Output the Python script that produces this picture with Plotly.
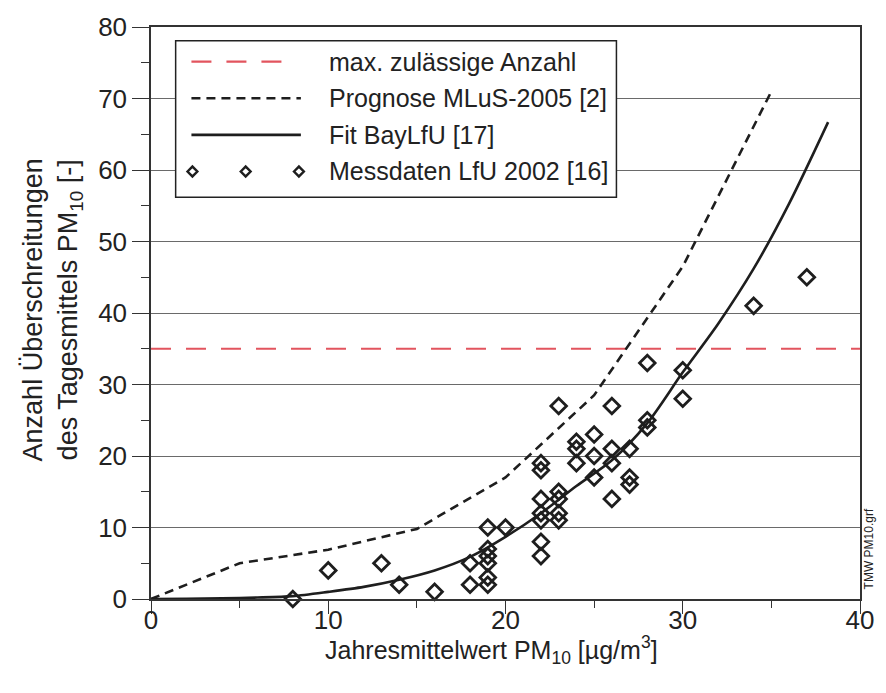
import plotly.graph_objects as go

# ---- data ----
limit_x = [0, 40]
limit_y = [35, 35]

prog_x = [0, 5, 10, 15, 20, 25, 30, 35]
prog_y = [0, 5, 6.9, 9.8, 17, 28.5, 46.5, 71]

fit_x = [0, 2, 4, 6, 8, 10, 12, 14, 16, 18, 20, 22, 24, 26, 28, 30, 32, 34, 36, 38.2]
fit_y = [0, 0.02, 0.1, 0.2, 0.4, 1.0, 1.7, 2.7, 4.0, 5.9, 8.7, 12, 15.8, 19.4, 24.6, 31.7, 38.5, 46.2, 55.3, 66.7]

mess_x = [8, 10, 13, 14, 16, 18, 18, 19, 19, 19, 19, 19, 19, 20,
          22, 22, 22, 22, 22, 22, 22, 23, 23, 23, 23, 23, 24, 24, 24,
          25, 25, 25, 26, 26, 26, 26, 27, 27, 27, 28, 28, 28, 30, 30, 34, 37]
mess_y = [0, 4, 5, 2, 1, 5, 2, 10, 7, 6, 5, 3, 2, 10,
          19, 18, 14, 12, 11, 8, 6, 27, 15, 14, 12, 11, 22, 21, 19,
          23, 20, 17, 27, 21, 19, 14, 21, 17, 16, 33, 25, 24, 32, 28, 41, 45]

legend_labels = ["max. zulässige Anzahl", "Prognose MLuS-2005 [2]",
                 "Fit BayLfU [17]", "Messdaten LfU 2002 [16]"]

RED = "#e2545e"
BLK = "#1e1e1e"
FONT = "Liberation Sans, Arial, sans-serif"

fig = go.Figure()
fig.add_trace(go.Scatter(x=limit_x, y=limit_y, mode="lines",
                         line=dict(color=RED, width=2.2, dash="20px,15px"),
                         name=legend_labels[0], showlegend=False))
fig.add_trace(go.Scatter(x=prog_x, y=prog_y, mode="lines",
                         line=dict(color=BLK, width=2.6, dash="9px,6px"),
                         name=legend_labels[1], showlegend=False))
fig.add_trace(go.Scatter(x=fit_x, y=fit_y, mode="lines",
                         line=dict(color=BLK, width=2.6, shape="spline", smoothing=0.8),
                         name=legend_labels[2], showlegend=False))
fig.add_trace(go.Scatter(x=mess_x, y=mess_y, mode="markers",
                         marker=dict(symbol="diamond-open", size=12, color=BLK,
                                     line=dict(width=2.8, color=BLK)),
                         name=legend_labels[3], showlegend=False, cliponaxis=False))

# ---- custom legend (paper coords) ----
W, H = 886, 693
L, R, T, B = 151, 16, 21, 94
pw, ph = W - L - R, H - T - B
def px(x): return (x - L) / pw
def py(y): return (H - B - y) / ph

shapes = []
shapes.append(dict(type="rect", xref="paper", yref="paper",
                   x0=px(176), x1=px(623), y0=py(193), y1=py(35),
                   line=dict(color="#222", width=1.5), fillcolor="white", layer="above"))
rows = [56, 93, 130, 167]
shapes.append(dict(type="line", xref="paper", yref="paper", x0=px(192), x1=px(290),
                   y0=py(rows[0]), y1=py(rows[0]), line=dict(color=RED, width=2.2, dash="20px,15px"), layer="above"))
shapes.append(dict(type="line", xref="paper", yref="paper", x0=px(192), x1=px(303),
                   y0=py(rows[1]), y1=py(rows[1]), line=dict(color=BLK, width=2.6, dash="9px,6px"), layer="above"))
shapes.append(dict(type="line", xref="paper", yref="paper", x0=px(192), x1=px(303),
                   y0=py(rows[2]), y1=py(rows[2]), line=dict(color=BLK, width=2.6), layer="above"))
for cx in [193, 247, 301]:
    r = 5
    cy = rows[3]
    path = (f"M {px(cx-r)} {py(cy)} L {px(cx)} {py(cy-r)} L {px(cx+r)} {py(cy)} "
            f"L {px(cx)} {py(cy+r)} Z")
    shapes.append(dict(type="path", xref="paper", yref="paper", path=path,
                       line=dict(color=BLK, width=2.4), layer="above"))

annotations = []
for lab, ry in zip(legend_labels, rows):
    annotations.append(dict(text=lab, xref="paper", yref="paper", x=px(329), y=py(ry),
                            xanchor="left", yanchor="middle", showarrow=False,
                            font=dict(size=25, color="#222", family=FONT)))
annotations.append(dict(text="Jahresmittelwert PM<sub>10</sub> [µg/m<sup>3</sup>]",
                        xref="paper", yref="paper", x=px(496), y=py(651),
                        xanchor="center", yanchor="middle", showarrow=False,
                        font=dict(size=25, color="#222", family=FONT)))
annotations.append(dict(text="Anzahl Überschreitungen<br>des Tagesmittels PM<sub>10</sub> [-]",
                        xref="paper", yref="paper", x=px(51), y=py(307),
                        xanchor="center", yanchor="middle", showarrow=False, textangle=-90,
                        font=dict(size=27, color="#222", family=FONT)))
annotations.append(dict(text="TMW PM10.grf", xref="paper", yref="paper", x=px(879), y=py(548),
                        xanchor="center", yanchor="middle", showarrow=False, textangle=-90,
                        font=dict(size=12, color="#222", family=FONT)))

fig.update_layout(
    width=W, height=H, margin=dict(l=L, r=R, t=T, b=B),
    paper_bgcolor="white", plot_bgcolor="white",
    font=dict(family=FONT, color="#222", size=25),
    shapes=shapes, annotations=annotations, showlegend=False,
    xaxis=dict(range=[0, 40], dtick=10, tick0=0, showgrid=False, zeroline=False,
               showline=True, linecolor="#333", linewidth=1.5, mirror=True,
               ticks="outside", ticklen=13, tickwidth=1.3, tickcolor="#333",
               tickfont=dict(size=26), ticklabelstandoff=-16,
               minor=dict(dtick=5, ticks="outside", ticklen=7, tickwidth=1.3, tickcolor="#333", showgrid=False)),
    yaxis=dict(range=[0, 80], dtick=10, tick0=0, showgrid=True, gridcolor="#6a6a6a", gridwidth=1,
               zeroline=False, showline=True, linecolor="#333", linewidth=1.5, mirror=True,
               ticks="outside", ticklen=17, tickwidth=1.3, tickcolor="#333",
               tickfont=dict(size=26),
               minor=dict(dtick=5, ticks="outside", ticklen=8, tickwidth=1.3, tickcolor="#333", showgrid=False)),
)

fig.write_html("out.html")
